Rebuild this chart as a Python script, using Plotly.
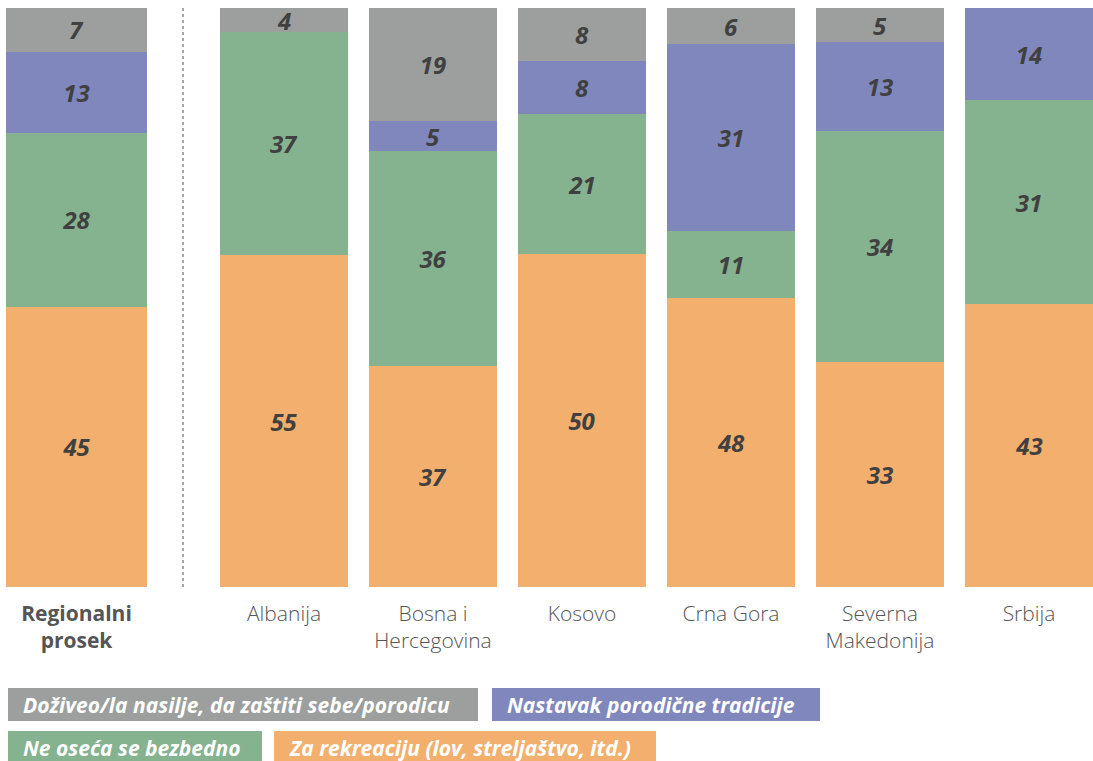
import plotly.graph_objects as go

categories = ["Regionalni<br>prosek", "Albanija", "Bosna i<br>Hercegovina", "Kosovo",
              "Crna Gora", "Severna<br>Makedonija", "Srbija"]
series_names = ["Za rekreaciju (lov, streljaštvo, itd.)", "Ne oseća se bezbedno",
                "Nastavak porodične tradicije", "Doživeo/la nasilje, da zaštiti sebe/porodicu"]
recreation = [45, 55, 37, 50, 48, 33, 43]
unsafe = [28, 37, 36, 21, 11, 34, 31]
tradition = [13, None, 5, 8, 31, 13, 14]
violence = [7, 4, 19, 8, 6, 5, None]

colors = ["#f3af6e", "#85b28f", "#8087bd", "#9c9f9d"]
series = [recreation, unsafe, tradition, violence]

# layout geometry (pixels)
W, H = 1093, 761
centers = [76.5] + [284 + 149 * i for i in range(6)]
widths = [141] + [128] * 6

fig = go.Figure()
for name, vals, col in zip(series_names, series, colors):
    fig.add_trace(go.Bar(
        x=centers, y=[v if v is not None else 0 for v in vals], width=widths,
        name=name, marker=dict(color=col, line=dict(width=0)),
        text=["" if v is None else str(v) for v in vals],
        textposition="inside", insidetextanchor="middle", textangle=0,
        constraintext="none",
        textfont=dict(family="Open Sans", size=24, color="#404040", weight="bold", style="italic"),
        hoverinfo="skip", showlegend=False,
    ))

ticktext = []
for i, c in enumerate(categories):
    if i == 0:
        ticktext.append("<b>" + c.replace("<br>", "</b><br><b>") + "</b>")
    else:
        ticktext.append(c)

fig.update_layout(
    width=W, height=H,
    barmode="stack", barnorm="percent",
    plot_bgcolor="white", paper_bgcolor="white",
    margin=dict(l=0, r=0, t=8, b=174),
    uniformtext=dict(minsize=24, mode="show"),
    xaxis=dict(range=[0, W], tickvals=centers, ticktext=ticktext, showgrid=False,
               zeroline=False, showline=False, ticks="", ticklabelstandoff=12,
               tickfont=dict(family="Open Sans", size=21, color="#555555", weight=300)),
    yaxis=dict(range=[0, 100], visible=False),
)

# dotted separator
fig.add_shape(type="line", xref="x", yref="paper", x0=183, x1=183, y0=0, y1=1,
              line=dict(color="#888888", width=1.5, dash="dot"))

# legend boxes (pixel boxes -> paper coords)
plot_h = H - 8 - 174
def py(y):
    return (H - 174 - y) / plot_h

legend_items = [
    (series_names[3], colors[3], 8, 478, 688, 721),
    (series_names[2], colors[2], 492, 820, 688, 721),
    (series_names[1], colors[1], 8, 262, 731, 764),
    (series_names[0], colors[0], 274, 656, 731, 764),
]
for name, col, x0, x1, y0, y1 in legend_items:
    fig.add_shape(type="rect", xref="x", yref="paper", x0=x0, x1=x1, y0=py(y1), y1=py(y0),
                  fillcolor=col, line=dict(width=0), layer="below")
    fig.add_annotation(xref="x", yref="paper", x=x0 + 13, y=py((y0 + y1) / 2),
                       text="<b><i>" + name + "</i></b>", showarrow=False,
                       xanchor="left", yanchor="middle",
                       font=dict(family="Open Sans", size=21, color="white"))

fig.write_html("out.html", config={"displayModeBar": False},
               post_script="document.body.style.margin='0';")
